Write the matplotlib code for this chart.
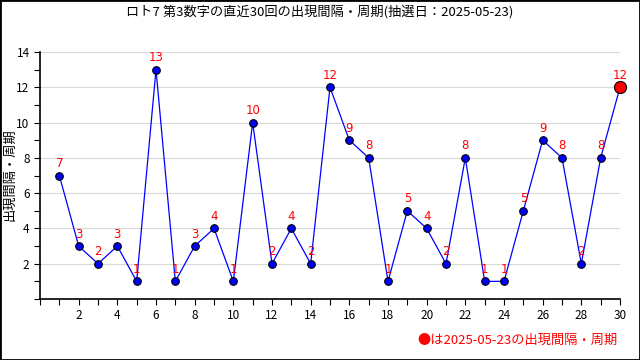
import matplotlib
matplotlib.use('Agg')
import matplotlib.pyplot as plt
from matplotlib.ticker import MultipleLocator

plt.rcParams['font.family'] = ['Noto Sans CJK JP', 'DejaVu Sans']

draws = list(range(1, 31))
gaps = [7, 3, 2, 3, 1, 13, 1, 3, 4, 1, 10, 2, 4, 2, 12,
        9, 8, 1, 5, 4, 2, 8, 1, 1, 5, 9, 8, 2, 8, 12]
title = 'ロト7 第3数字の直近30回の出現間隔・周期(抽選日：2025-05-23)'
ylabel = '出現間隔・周期'
note = '●は2025-05-23の出現間隔・周期'

fig = plt.figure(figsize=(6.4, 3.6), dpi=100)
ax = fig.add_axes([40 / 640, 61 / 360, 580 / 640, 247 / 360])

ax.plot(draws, gaps, color='blue', lw=0.9, zorder=3)
ax.scatter(draws[:-1], gaps[:-1], s=30, color='blue', edgecolor='black', lw=0.8, zorder=4)
ax.scatter(draws[-1:], gaps[-1:], s=75, color='red', edgecolor='black', lw=0.8, zorder=5, clip_on=False)
for x, y in zip(draws, gaps):
    ax.annotate(str(y), (x, y), xytext=(0, 4), textcoords='offset points',
                ha='center', va='bottom', color='red', fontsize=8.5, zorder=6,
                family=['DejaVu Sans'])

ax.set_xlim(0, 30)
ax.set_ylim(0, 14)
ax.set_xticks(range(2, 31, 2))
ax.xaxis.set_minor_locator(MultipleLocator(1))
ax.set_yticks(range(2, 15, 2))
ax.yaxis.set_minor_locator(MultipleLocator(1))
ax.tick_params(which='both', direction='out', length=4, width=0.8, labelsize=8.5)
ax.tick_params(axis='x', pad=3)
ax.grid(axis='y', which='major', color='#d8d8d8', lw=0.8, zorder=0)
for s in ['top', 'right']:
    ax.spines[s].set_visible(False)
for s in ['left', 'bottom']:
    ax.spines[s].set_linewidth(1.2)

fig.text(10 / 640, 1 - 175 / 360, ylabel, rotation=90, ha='center', va='center', fontsize=9.5)
fig.text(0.5, 1 - 12 / 360, title, ha='center', va='center', fontsize=9.5)
fig.text(618 / 640, 1 - 340 / 360, note, ha='right', va='center', color='red', fontsize=9.5)

fig.patches.append(plt.Rectangle((0, 0), 1, 1, transform=fig.transFigure,
                                 fill=False, edgecolor='black', lw=2))
fig.savefig('out.png', dpi=100)
